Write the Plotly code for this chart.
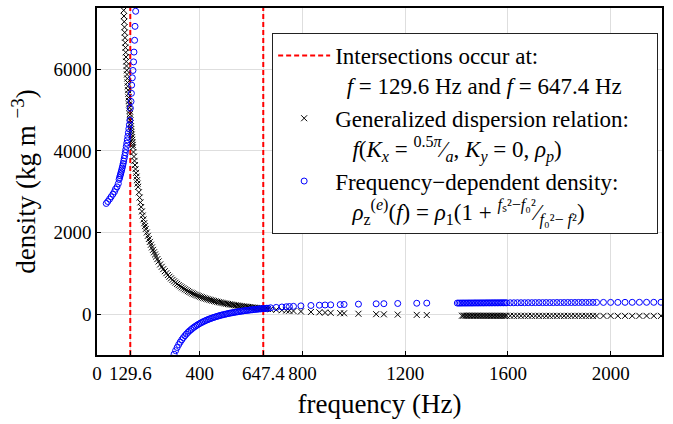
import plotly.graph_objects as go

# ---------------- data ----------------
intersections = [129.6, 647.4]
y_range = [-1000, 7500]
x_range = [0, 2200]
x_ticks = [0, 129.6, 400, 647.4, 800, 1200, 1600, 2000]
x_tick_text = ["0", "129.6", "400", "647.4", "800", "1200", "1600", "2000"]
y_ticks = [0, 2000, 4000, 6000]

# generalized dispersion relation (black x markers)
black_upper_f = [102, 103, 104, 105, 106, 107, 108, 109, 110, 111, 112, 113, 114, 115, 116, 117,
                 118, 119, 120, 121, 122, 123, 124, 125, 126, 127, 128, 129, 130, 131, 132, 133,
                 134, 135, 136, 137, 138, 139, 140, 142, 144, 146, 148, 150, 152, 154, 156, 158,
                 160, 163, 166, 169, 172, 175, 178, 181, 184, 187, 190, 194, 198, 202, 206, 210,
                 214, 218, 222, 226, 230, 235, 240]
black_upper_d = [7740, 7590, 7443, 7302, 7164, 7030, 6900, 6772, 6650, 6529, 6413, 6298, 6188, 6080,
                 5974, 5872, 5772, 5675, 5580, 5487, 5397, 5309, 5223, 5139, 5057, 4977, 4899, 4822,
                 4748, 4675, 4603, 4534, 4466, 4399, 4334, 4271, 4208, 4147, 4088, 3972, 3861, 3755,
                 3653, 3555, 3461, 3370, 3283, 3200, 3119, 2985, 2858, 2739, 2625, 2518, 2417, 2321,
                 2229, 2157, 2088, 2001, 1919, 1842, 1770, 1701, 1636, 1575, 1517, 1463, 1411, 1349,
                 1292]

dense_f = [246, 252, 258, 264, 270, 276, 282, 288, 294, 300, 306, 312, 318, 324, 330, 336, 342,
           348, 354, 360, 366, 372, 378, 384, 390, 396, 402, 408, 414, 420, 426, 432, 438, 444,
           450, 456, 462, 468, 474, 480, 486, 492, 498, 504, 510, 516, 522, 528, 534, 540, 546,
           552, 558, 564, 570, 576, 582, 588, 594, 600, 606, 612, 618, 624, 630, 636, 642, 648,
           654, 660, 666]
black_dense_d = [1219, 1160, 1104, 1053, 1004, 959, 917, 877, 840, 805, 772, 741, 711, 684, 657,
                 633, 609, 587, 565, 545, 526, 508, 490, 474, 458, 443, 428, 415, 401, 389, 377,
                 365, 354, 343, 333, 323, 313, 304, 295, 287, 279, 271, 263, 256, 249, 242, 236,
                 229, 223, 217, 212, 206, 201, 195, 190, 186, 181, 176, 172, 168, 163, 159, 155,
                 151, 148, 144, 141, 137, 134, 131, 127]

tail_f = [676, 698, 720, 737, 749, 765, 794, 833, 866, 888, 910, 947, 962, 1018, 1087, 1117,
          1171, 1245, 1284]
black_tail_d = [120, 108, 97, 90, 85, 78, 66, 54, 45, 39, 33, 25, 21, 10, 0, -4, -10, -17, -21]

right_f = [1403, 1409, 1415, 1421, 1427, 1433, 1439, 1445, 1451, 1457, 1463, 1469, 1475, 1481,
           1487, 1493, 1499, 1505, 1511, 1517, 1523, 1529, 1535, 1541, 1547, 1553, 1559, 1565,
           1571, 1577, 1583, 1589, 1595, 1609, 1623, 1637, 1651, 1665, 1679, 1693, 1707, 1721,
           1735, 1749, 1763, 1777, 1791, 1805, 1819, 1833, 1847, 1861, 1875, 1889, 1903, 1917,
           1931, 1945, 1972, 2000, 2028, 2056, 2084, 2112, 2140, 2168, 2196]
black_right_d = [-36, -36, -37, -37, -37, -37, -37, -38, -38, -38, -38, -38, -38, -38, -38, -39,
                 -39, -39, -39, -39, -39, -39, -39, -39, -39, -39, -39, -40, -40, -40, -40, -40,
                 -40, -40, -40, -40, -40, -40, -40, -40, -41, -41, -41, -41, -41, -41, -41, -41,
                 -41, -41, -41, -41, -41, -41, -42, -42, -42, -42, -42, -42, -42, -42, -42, -42,
                 -42, -42, -42]

# frequency-dependent density (blue circles)
blue_low_f = [36, 42, 49, 55, 62, 68, 72, 78, 83, 86, 88, 90, 92, 94, 96, 98, 100, 102, 104, 106,
              108, 110, 112, 114, 116, 118, 120, 122, 124, 126, 128, 130, 132.5, 134, 135, 137.5,
              140, 142.5, 144, 146.5, 148, 150.5]
blue_low_d = [2712, 2760, 2819, 2875, 2940, 3000, 3062, 3118, 3198, 3300, 3345, 3390, 3435, 3480,
              3530, 3580, 3635, 3690, 3750, 3815, 3885, 3955, 4030, 4110, 4190, 4270, 4355, 4445,
              4540, 4640, 4750, 5045, 5210, 5410, 5610, 5790, 5970, 6180, 6420, 6710, 7050, 7420]
blue_neg_f = dense_f[8:]
blue_neg_d = [-1081, -981, -894, -816, -746, -684, -627, -576, -529, -486, -447, -411, -378, -347,
              -318, -292, -267, -244, -222, -202, -183, -165, -148, -132, -117, -103, -89, -77,
              -64, -53, -42, -31, -21, -12, -3, 6, 14, 22, 30, 37, 44, 50, 57, 63, 69, 75, 80, 86,
              91, 96, 100, 105, 109, 114, 118, 122, 126, 129, 133, 136, 140, 143, 146]
blue_tail_d = [157, 166, 176, 182, 187, 192, 203, 213, 220, 225, 229, 235, 238, 246, 254, 257,
               262, 268, 271]
blue_right_d = [272, 272, 272, 273, 273, 273, 273, 274, 274, 274, 274, 275, 275, 275, 275, 276,
                276, 276, 276, 277, 277, 277, 277, 278, 278, 278, 278, 278, 279, 279, 279, 279,
                279, 280, 280, 281, 281, 281, 282, 282, 283, 283, 283, 284, 284, 284, 285, 285,
                285, 286, 286, 286, 287, 287, 287, 287, 288, 288, 288, 289, 289, 290, 290, 291,
                291, 291, 292]

black_f = black_upper_f + dense_f + tail_f + right_f[3:]
black_d = black_upper_d + black_dense_d + black_tail_d + black_right_d[3:]
blue_f = blue_low_f + blue_neg_f + tail_f + right_f
blue_d = blue_low_d + blue_neg_d + blue_tail_d + blue_right_d

# ---------------- figure ----------------
FONT = "Liberation Serif"
NB = "\u00a0"

red_x, red_y = [], []
for f in intersections:
    red_x += [f, f, None]
    red_y += [y_range[0], y_range[1], None]

fig = go.Figure()
fig.add_trace(go.Scatter(
    x=red_x, y=red_y, mode="lines",
    line=dict(color="#ff0000", width=2, dash="5px,3px"),
    name=("Intersections occur at:<br>" + NB * 2 +
          "<i>f</i> = 129.6 Hz and <i>f</i> = 647.4 Hz"),
))
fig.add_trace(go.Scatter(
    x=black_f, y=black_d, mode="markers",
    marker=dict(symbol="x-thin", size=6, line=dict(color="black", width=1)),
    name=("Generalized dispersion relation:" + NB * 4 + "<br>" + NB * 3 +
          "<i>f</i>(<i>K<sub>x</sub></i> = <sup>0.5<i>π</i></sup>⁄<sub><i>a</i></sub>, "
          "<i>K<sub>y</sub></i> = 0, <i>ρ<sub>p</sub></i>)"),
))
fig.add_trace(go.Scatter(
    x=blue_f, y=blue_d, mode="markers",
    marker=dict(symbol="circle-open", size=6, color="#0000ff", line=dict(width=1)),
    name=("Frequency\u2212dependent density:<br>" + NB * 3 +
          "<i>ρ</i><sub>z</sub><sup>(<i>e</i>)</sup>(<i>f</i>) = <i>ρ</i><sub>1</sub>(1 + "
          "<sup><i>f</i>ₛ²\u2212<i>f</i>₀²</sup>⁄<sub><i>f</i>₀²\u2212 <i>f</i>²</sub>)"),
))

axis_common = dict(
    showline=True, linecolor="black", linewidth=1.5, mirror=True,
    showgrid=True, gridcolor="#dedede", gridwidth=1,
    ticks="inside", ticklen=4, tickwidth=1, tickcolor="black",
    zeroline=False,
    tickfont=dict(family=FONT, size=19, color="black"),
)

fig.update_layout(
    width=673, height=424,
    margin=dict(l=97, r=11, t=6, b=69),
    paper_bgcolor="white", plot_bgcolor="white",
    font=dict(family=FONT, color="black"),
    showlegend=True,
    legend=dict(
        x=0.31, y=0.928, xanchor="left", yanchor="top",
        bgcolor="white", bordercolor="#222222", borderwidth=1,
        font=dict(family=FONT, size=23, color="black"),
        valign="top", itemwidth=52, tracegroupgap=0,
    ),
    xaxis=dict(
        range=x_range, tickmode="array", tickvals=x_ticks, ticktext=x_tick_text,
        tickangle=0,
        title=dict(text="frequency (Hz)", font=dict(family=FONT, size=27), standoff=12),
        **axis_common,
    ),
    yaxis=dict(
        range=y_range, tickmode="array", tickvals=y_ticks,
        title=dict(text="density (kg m <sup>\u22123</sup>)", font=dict(family=FONT, size=27),
                   standoff=10),
        **axis_common,
    ),
)

fig.write_html("out.html", config={"displayModeBar": False},
               post_script="document.body.style.margin='0';document.body.style.padding='0';")
